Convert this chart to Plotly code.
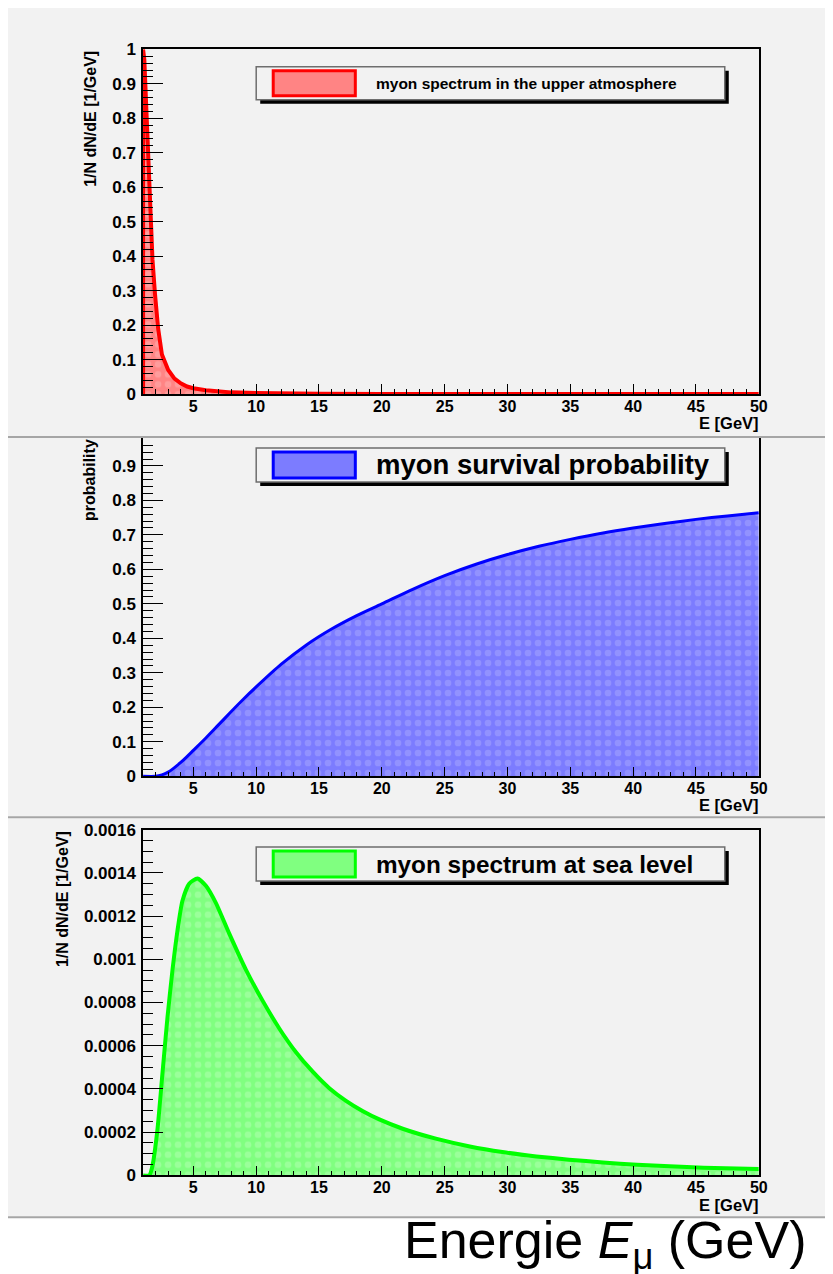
import plotly.graph_objects as go

W, H = 833, 1274

# ---------------- data ----------------
e_top = [1.0, 1.1, 1.25, 1.4, 1.5, 1.6, 1.75, 1.95, 2.2, 2.5, 3.0, 3.5, 4.0, 4.5,
         5.0, 6.0, 7.0, 8.0, 10.0, 12.0, 15.0, 20.0, 30.0, 40.0, 50.0]
spec_top = [1.0, 0.97, 0.83, 0.70, 0.61, 0.51, 0.39, 0.29, 0.19, 0.115, 0.07, 0.045,
            0.031, 0.022, 0.017, 0.011, 0.007, 0.005, 0.0033, 0.002, 0.0011, 0.0005,
            0.00016, 0.00007, 0.00004]

e_surv = [1, 2, 2.5, 3, 3.5, 4, 4.5, 5, 6, 7, 8, 9, 10, 12, 14, 16, 18, 20, 22.5, 25,
          27.5, 30, 32.5, 35, 37.5, 40, 42.5, 45, 47.5, 50]
surv = [0, 0, 0.004, 0.012, 0.025, 0.04, 0.057, 0.075, 0.111, 0.149, 0.187, 0.224, 0.259,
        0.325, 0.381, 0.427, 0.466, 0.5, 0.543, 0.582, 0.615, 0.643, 0.667, 0.687, 0.705,
        0.72, 0.733, 0.745, 0.755, 0.764]

e_sea = [1, 1.5, 1.74, 2.14, 2.54, 2.94, 3.34, 3.73, 4.13, 4.67, 5.33, 6.0, 6.8, 7.85,
         9.2, 10.5, 11.84, 13.17, 14.5, 15.8, 17.15, 18.5, 19.8, 21.66, 24.3, 27, 29.6,
         32.3, 34.9, 37.6, 40.3, 42.9, 45.6, 50]
sea = [0, 0, 0.000042, 0.00021, 0.00047, 0.00073, 0.00095, 0.00113, 0.00127, 0.00135,
       0.001374, 0.00134, 0.00126, 0.00112, 0.00095, 0.00081, 0.00068, 0.00057, 0.00048,
       0.000405, 0.000345, 0.000297, 0.000259, 0.000216, 0.00017, 0.000134, 0.000108,
       0.000088, 0.000073, 0.00006, 0.000049, 0.000042, 0.000036, 0.00003]

legend_texts = ["myon spectrum in the upper atmosphere", "myon survival probability",
                "myon spectrum at sea level"]
ytitles = ["1/N dN/dE [1/GeV]", "probability", "1/N dN/dE [1/GeV]"]
xtitle = "E [GeV]"

# ---------------- helpers: target pixel -> paper fraction ----------------
SX, OX = 0.988, 9.1
SY, OY = 0.9872, 15.1


def fx(px):
    return ((px - OX) / SX) / W


def fy(py):
    return 1 - ((py - OY) / SY) / H


FONT = "Liberation Sans, Arial, sans-serif"
BG = "#f2f2f2"

fig = go.Figure()

fig.add_trace(go.Scatter(
    x=[e_top[0]] + e_top, y=[0] + spec_top, mode="lines", fill="tozeroy",
    line=dict(color="#ff0000", width=4), xaxis="x", yaxis="y",
    fillpattern=dict(shape=".", bgcolor="#ff8484", fgcolor="#ffb4b4", size=10, solidity=0.35),
    hoverinfo="skip", showlegend=False))
fig.add_trace(go.Scatter(
    x=e_surv, y=surv, mode="lines", fill="tozeroy", line_shape="spline",
    line=dict(color="#0000ff", width=3, smoothing=0.8), xaxis="x2", yaxis="y2",
    fillpattern=dict(shape=".", bgcolor="#7c7cff", fgcolor="#a8a8ff", size=10, solidity=0.35),
    hoverinfo="skip", showlegend=False))
fig.add_trace(go.Scatter(
    x=e_sea, y=sea, mode="lines", fill="tozeroy", line_shape="spline",
    line=dict(color="#00ff00", width=4, smoothing=0.6), xaxis="x3", yaxis="y3",
    fillpattern=dict(shape=".", bgcolor="#80ff80", fgcolor="#b4ffb4", size=10, solidity=0.35),
    hoverinfo="skip", showlegend=False))

xdom = [fx(144), fx(759)]
panels = [
    dict(yb=393, yt=47.5, rng=[0, 1.0], dt=0.1, mdt=0.02, mx=True),
    dict(yb=776, yt=437, rng=[0, 0.981], dt=0.1, mdt=0.02, mx=False),
    dict(yb=1176, yt=829.5, rng=[0, 0.0016], dt=0.0002, mdt=0.00005, mx=True),
]

xtickfont = dict(family=FONT, size=16, color="black", weight="bold")
ytickfont = dict(family=FONT, size=17, color="black", weight="bold")
for i, p in enumerate(panels):
    sfx = "" if i == 0 else str(i + 1)
    fig.layout["xaxis" + sfx] = dict(
        domain=xdom, range=[1, 50], anchor="y" + sfx, tick0=0, dtick=5,
        ticks="inside", ticklen=10, tickwidth=1, tickcolor="black",
        showline=True, linecolor="black", linewidth=1.5, mirror=p["mx"],
        showgrid=False, zeroline=False, tickfont=xtickfont, ticklabelstandoff=-3,
        minor=dict(dtick=1, tick0=0, ticks="inside", ticklen=5, tickcolor="black", showgrid=False),
        fixedrange=True)
    fig.layout["yaxis" + sfx] = dict(
        domain=[fy(p["yb"]), fy(p["yt"])], range=p["rng"], anchor="x" + sfx,
        tick0=0, dtick=p["dt"], ticks="inside", ticklen=20, tickwidth=1, tickcolor="black",
        showline=True, linecolor="black", linewidth=1.5, mirror=True,
        showgrid=False, zeroline=False, tickfont=ytickfont, ticklabelstandoff=2,
        minor=dict(dtick=p["mdt"], tick0=0, ticks="inside", ticklen=10, tickcolor="black",
                   showgrid=False),
        fixedrange=True)

shapes = []
for (y0, y1) in [(5, 435), (437, 816), (818, 1217)]:
    shapes.append(dict(type="rect", xref="paper", yref="paper", x0=fx(8), x1=1.01,
                       y0=fy(y1), y1=fy(y0), fillcolor=BG, line=dict(width=0), layer="below"))
for yy in [436, 817, 1218]:
    shapes.append(dict(type="line", xref="paper", yref="paper", x0=fx(8), x1=1.01,
                       y0=fy(yy), y1=fy(yy), line=dict(color="#a6a6a6", width=2), layer="below"))

leg_boxes = [(65, 98), (447, 481), (847, 881)]
leg_colors = [("#ff0000", "#ff8484"), ("#0000ff", "#7c7cff"), ("#00ff00", "#80ff80")]
leg_sizes = [15.5, 27.5, 24.3]
annotations = []
for (y0, y1), (lc, fc), txt, fs in zip(leg_boxes, leg_colors, legend_texts, leg_sizes):
    shapes.append(dict(type="rect", xref="paper", yref="paper", x0=fx(261), x1=fx(729),
                       y0=fy(y1 + 4), y1=fy(y0 + 4), fillcolor="black", line=dict(width=0)))
    shapes.append(dict(type="rect", xref="paper", yref="paper", x0=fx(257), x1=fx(725),
                       y0=fy(y1), y1=fy(y0), fillcolor=BG, line=dict(color="#6e6e6e", width=1.5)))
    shapes.append(dict(type="rect", xref="paper", yref="paper", x0=fx(274), x1=fx(356),
                       y0=fy(y1 - 4), y1=fy(y0 + 4), fillcolor=fc, line=dict(color=lc, width=3)))
    annotations.append(dict(text=txt, xref="paper", yref="paper", x=fx(375), y=fy((y0 + y1) / 2),
                            xanchor="left", yanchor="middle", showarrow=False,
                            font=dict(family=FONT, size=fs, color="black", weight="bold")))

title_font = dict(family=FONT, size=16, color="black", weight="bold")
for yy in [432, 815, 1216]:
    annotations.append(dict(text=xtitle, xref="paper", yref="paper", x=fx(760), y=fy(yy),
                            xanchor="right", yanchor="bottom", showarrow=False,
                            borderpad=0,
                            font=dict(family=FONT, size=16.5, color="black", weight="bold")))
for txt, xx, ytop in zip(ytitles, [92, 91, 63], [47, 436, 829]):
    annotations.append(dict(text=txt, xref="paper", yref="paper", x=fx(xx), y=fy(ytop),
                            xanchor="center", yanchor="top", textangle=-90, showarrow=False,
                            font=title_font))

annotations.append(dict(text="Energie <i>E</i><sub>μ</sub> (GeV)", xref="paper", yref="paper",
                        x=fx(807), y=fy(1245), xanchor="right", yanchor="middle",
                        showarrow=False, borderpad=0,
                        font=dict(family=FONT, size=52, color="black")))

fig.update_layout(
    width=W, height=H, margin=dict(l=0, r=0, t=0, b=0),
    paper_bgcolor="white", plot_bgcolor=BG,
    shapes=shapes, annotations=annotations, showlegend=False,
    hovermode=False,
)

fig.write_html("out.html", config={"displayModeBar": False})
